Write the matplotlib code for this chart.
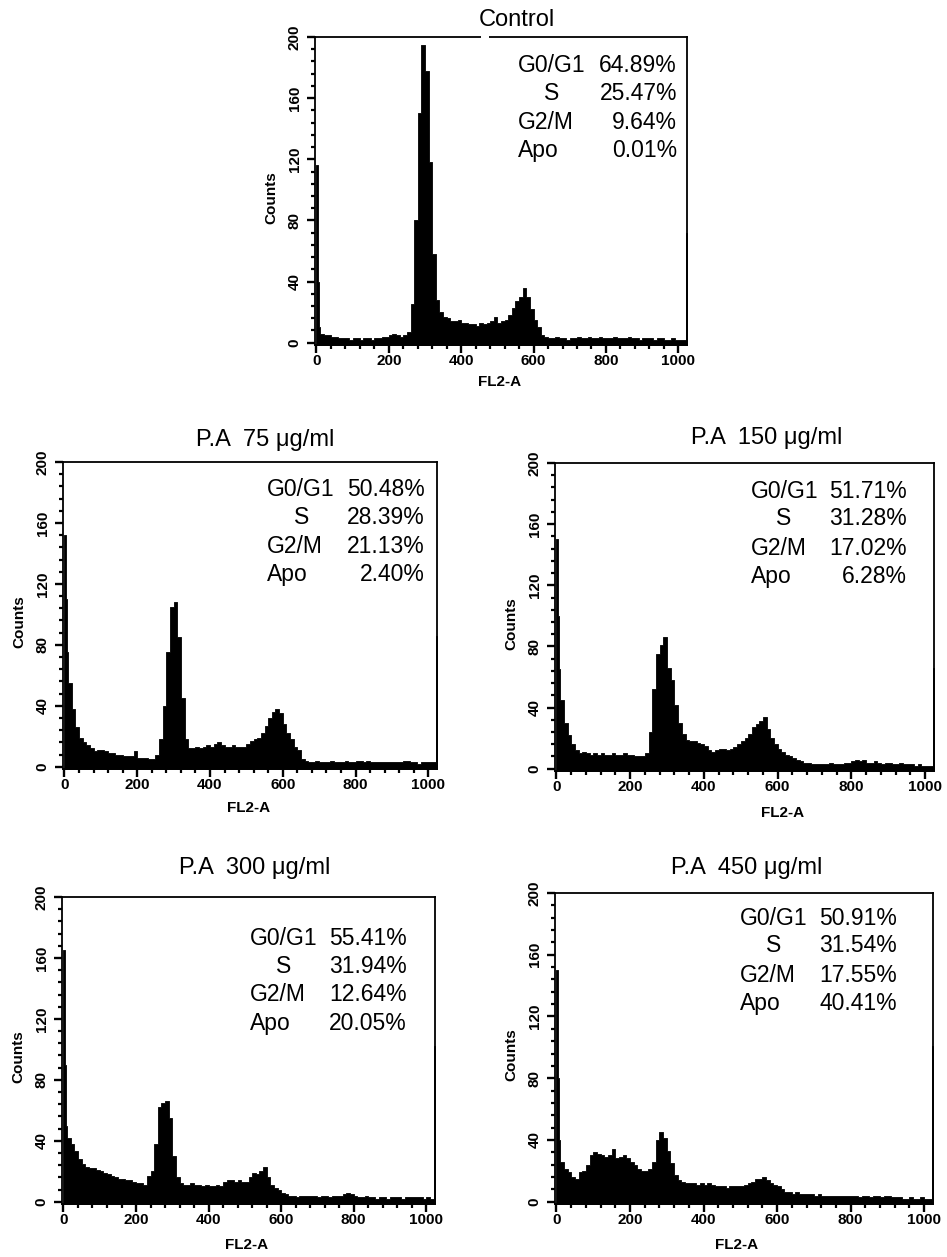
import numpy as np
import matplotlib
matplotlib.use("Agg")
import matplotlib.pyplot as plt
from matplotlib.ticker import MultipleLocator

plt.rcParams['font.family'] = ['Liberation Sans', 'DejaVu Sans']

# FL2-A channel bin edges: three narrow bins at the origin, then 10-channel bins
edges = np.array([0, 3, 6] + list(range(10, 1021, 10)) + [1024])

# Counts per bin: first three narrow bins, then rows of ten bins
# (10-100, 110-200, ..., 910-1000), then the 1010 bin and the last-channel bin.
ctrl_counts = [116, 40, 10,
               6, 5, 5, 4, 4, 3, 3, 3, 2, 3,
               3, 2, 3, 3, 2, 3, 3, 4, 4, 5,
               6, 5, 4, 5, 7, 25, 80, 150, 195, 178,
               118, 58, 28, 20, 17, 16, 14, 14, 15, 13,
               13, 12, 12, 11, 13, 12, 13, 14, 17, 13,
               14, 15, 18, 23, 27, 30, 36, 30, 22, 15,
               10, 5, 4, 3, 3, 4, 3, 3, 2, 3,
               3, 4, 3, 3, 4, 3, 3, 4, 3, 3,
               3, 4, 3, 3, 3, 4, 3, 3, 2, 3,
               3, 3, 2, 3, 3, 2, 2, 3, 2, 2,
               2, 72]

pa75_counts = [152, 110, 75,
               55, 38, 26, 19, 16, 14, 12, 10, 11, 11,
               10, 9, 9, 8, 8, 7, 7, 7, 10, 6,
               6, 6, 5, 5, 8, 18, 40, 75, 105, 108,
               85, 45, 18, 12, 12, 13, 12, 13, 14, 13,
               15, 16, 14, 13, 13, 14, 13, 13, 13, 15,
               17, 18, 19, 22, 27, 32, 36, 38, 35, 28,
               22, 18, 13, 11, 5, 4, 3, 3, 4, 3,
               3, 3, 4, 3, 3, 3, 4, 3, 3, 4,
               4, 3, 4, 3, 3, 3, 3, 3, 3, 3,
               3, 3, 4, 4, 3, 3, 2, 3, 3, 3,
               3, 86]

pa150_counts = [150, 100, 65,
                45, 30, 22, 16, 12, 10, 11, 10, 9, 10,
                9, 10, 9, 9, 10, 9, 9, 10, 9, 9,
                8, 8, 8, 10, 24, 52, 75, 81, 86, 66,
                58, 42, 30, 23, 19, 18, 18, 17, 16, 15,
                12, 11, 12, 13, 13, 12, 13, 14, 16, 18,
                20, 23, 27, 29, 31, 34, 26, 20, 16, 13,
                11, 9, 8, 7, 6, 5, 4, 4, 3, 3,
                3, 3, 3, 4, 3, 3, 3, 4, 4, 5,
                6, 5, 6, 4, 4, 5, 4, 3, 4, 4,
                3, 3, 4, 3, 3, 3, 2, 3, 2, 2,
                2, 66]

pa300_counts = [165, 90, 50,
                42, 38, 33, 28, 25, 23, 22, 22, 21, 20,
                19, 18, 17, 16, 15, 15, 14, 14, 13, 12,
                12, 11, 17, 20, 38, 62, 65, 66, 55, 30,
                16, 12, 11, 11, 12, 11, 11, 10, 11, 10,
                10, 11, 10, 13, 14, 14, 13, 14, 13, 13,
                16, 19, 18, 20, 23, 16, 11, 9, 8, 6,
                5, 4, 4, 3, 4, 4, 4, 4, 4, 3,
                4, 4, 3, 4, 4, 4, 5, 6, 5, 4,
                3, 3, 4, 3, 3, 2, 3, 3, 2, 3,
                3, 3, 2, 3, 3, 3, 3, 3, 2, 3,
                2, 102]

pa450_counts = [150, 80, 40,
                26, 21, 19, 16, 15, 19, 20, 24, 30, 32,
                31, 30, 29, 30, 34, 28, 29, 30, 28, 26,
                24, 21, 20, 20, 21, 26, 40, 45, 41, 33,
                25, 17, 14, 13, 12, 12, 12, 11, 12, 11,
                12, 11, 10, 10, 10, 9, 10, 10, 10, 10,
                11, 12, 13, 15, 15, 16, 14, 12, 11, 10,
                8, 6, 6, 5, 6, 5, 5, 5, 5, 4,
                5, 4, 4, 4, 4, 4, 4, 4, 4, 4,
                4, 3, 4, 4, 3, 4, 4, 3, 4, 4,
                3, 3, 3, 2, 2, 3, 2, 2, 3, 2,
                2, 101]

phases = ["G0/G1", "S", "G2/M", "Apo"]
ctrl_pct = ["64.89%", "25.47%", "9.64%", "0.01%"]
pa75_pct = ["50.48%", "28.39%", "21.13%", "2.40%"]
pa150_pct = ["51.71%", "31.28%", "17.02%", "6.28%"]
pa300_pct = ["55.41%", "31.94%", "12.64%", "20.05%"]
pa450_pct = ["50.91%", "31.54%", "17.55%", "40.41%"]

titles = ["Control", "P.A  75 μg/ml", "P.A  150 μg/ml",
          "P.A  300 μg/ml", "P.A  450 μg/ml"]

x_ticks = [0, 200, 400, 600, 800, 1000]
y_ticks = [0, 40, 80, 120, 160, 200]

W, H = 947, 1257
fig = plt.figure(figsize=(W / 100, H / 100), dpi=100)

Y0 = -1.5
STAT_FS = 16.5


def px_rect(left, top, right, bottom):
    return [left / W, 1 - bottom / H, (right - left) / W, (bottom - top) / H]


def draw_panel(rect, counts, title, title_px, pcts, lab_x, s_x, val_x, rows_y,
               xlab_pos, top_gap=None):
    ax = fig.add_axes(rect)
    heights = np.append(counts, counts[-1])
    ax.fill_between(edges, heights, Y0, step='post', color='black', lw=0.6,
                    edgecolor='black')
    ax.set_xlim(-4, 1024)
    ax.set_ylim(Y0, 200)
    ax.set_xticks(x_ticks)
    ax.set_yticks(y_ticks)
    ax.xaxis.set_minor_locator(MultipleLocator(40))
    ax.yaxis.set_minor_locator(MultipleLocator(8))
    ax.tick_params(which='major', direction='out', length=5.5, width=1.7,
                   labelsize=11)
    ax.tick_params(which='minor', direction='out', length=3.2, width=1.6)
    ax.tick_params(axis='x', which='major', pad=1.0)
    ax.tick_params(axis='y', which='major', pad=4)
    for lab in ax.get_xticklabels():
        lab.set_fontweight('bold')
    for lab in ax.get_yticklabels():
        lab.set_fontweight('bold')
        lab.set_rotation(90)
        lab.set_va('center')
    for sp in ax.spines.values():
        sp.set_linewidth(1.3)
    ax.text(-0.116, 0.48, "Counts", transform=ax.transAxes, rotation=90,
            ha='center', va='center', fontsize=11, fontweight='bold')
    ax.text(xlab_pos[0], xlab_pos[1], "FL2-A", transform=ax.transAxes,
            ha='center', va='center', fontsize=11, fontweight='bold')
    fig.text(title_px[0] / W, 1 - title_px[1] / H, title, ha='center',
             va='center', fontsize=17)
    for i, (ph, pc) in enumerate(zip(phases, pcts)):
        if ph == "S":
            ax.text(s_x, rows_y[i], ph, transform=ax.transAxes, ha='center',
                    va='center', fontsize=STAT_FS)
        else:
            ax.text(lab_x, rows_y[i], ph, transform=ax.transAxes, ha='left',
                    va='center', fontsize=STAT_FS)
        ax.text(val_x, rows_y[i], pc, transform=ax.transAxes, ha='right',
                va='center', fontsize=STAT_FS)
    if top_gap is not None:
        ax.plot(top_gap, [1, 1], color='white', lw=3, transform=ax.transAxes,
                clip_on=False, solid_capstyle='butt', zorder=5)
    return ax


draw_panel(px_rect(315, 37, 687, 345), ctrl_counts, titles[0], (517, 20),
           ctrl_pct, 0.546, 0.637, 0.973, [0.909, 0.818, 0.724, 0.633],
           (0.497, -0.12), top_gap=[0.447, 0.468])
draw_panel(px_rect(63, 462, 437, 769), pa75_counts, titles[1], (265, 440),
           pa75_pct, 0.545, 0.639, 0.968, [0.909, 0.819, 0.724, 0.632],
           (0.495, -0.127))
draw_panel(px_rect(555, 463, 934, 771), pa150_counts, titles[2], (767, 438),
           pa150_pct, 0.516, 0.604, 0.929, [0.907, 0.821, 0.724, 0.63],
           (0.60, -0.136))
draw_panel(px_rect(62, 897, 435, 1204), pa300_counts, titles[3], (255, 868),
           pa300_pct, 0.504, 0.595, 0.924, [0.865, 0.773, 0.681, 0.589],
           (0.496, -0.133))
draw_panel(px_rect(555, 893, 933, 1204), pa450_counts, titles[4], (747, 868),
           pa450_pct, 0.488, 0.578, 0.904, [0.919, 0.830, 0.736, 0.645],
           (0.48, -0.132))

fig.savefig("out.png", dpi=100)
